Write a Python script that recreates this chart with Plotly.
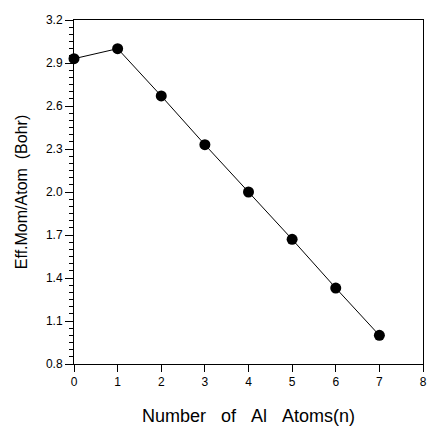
import plotly.graph_objects as go

n_atoms = [0, 1, 2, 3, 4, 5, 6, 7]
eff_mom = [2.93, 3.00, 2.67, 2.33, 2.00, 1.67, 1.33, 1.00]
x_ticks = [0, 1, 2, 3, 4, 5, 6, 7, 8]
y_ticks = [0.8, 1.1, 1.4, 1.7, 2.0, 2.3, 2.6, 2.9, 3.2]

fig = go.Figure()
fig.add_trace(go.Scatter(
    x=n_atoms, y=eff_mom, mode="lines+markers",
    line=dict(color="black", width=1),
    marker=dict(color="black", size=11),
    cliponaxis=False, showlegend=False,
))

font = "Liberation Sans, Arial, sans-serif"
sp = "\u00a0\u00a0\u00a0"
fig.update_layout(
    width=427, height=426,
    margin=dict(l=74, r=4, t=20, b=62, autoexpand=False),
    paper_bgcolor="white", plot_bgcolor="white",
    font=dict(family=font, color="black"),
    xaxis=dict(
        range=[0, 8], tickvals=x_ticks, ticktext=[str(v) for v in x_ticks],
        ticks="outside", ticklen=7, tickwidth=1, tickcolor="black",
        showline=True, linecolor="black", linewidth=1, mirror=True,
        showgrid=False, zeroline=False, automargin=False,
        ticklabeloverflow="allow",
        tickfont=dict(size=12, family=font),
        title=dict(text=f"Number{sp}of{sp}Al{sp}Atoms(n)", font=dict(size=18, family=font), standoff=25),
    ),
    yaxis=dict(
        range=[0.8, 3.2], tickvals=y_ticks, ticktext=[f"{v:.1f}" for v in y_ticks],
        ticks="outside", ticklen=8, tickwidth=1, tickcolor="black",
        minor=dict(dtick=0.05, ticks="outside", ticklen=4, tickcolor="black", tickwidth=1),
        showline=True, linecolor="black", linewidth=1, mirror=True,
        showgrid=False, zeroline=False, automargin=False,
        ticklabeloverflow="allow",
        tickfont=dict(size=12, family=font),
        title=dict(text="Eff.Mom/Atom  (Bohr)", font=dict(size=16, family=font), standoff=14),
    ),
)
fig.write_html(
    "out.html",
    config={"displayModeBar": False},
    post_script="document.body.style.margin='0';document.body.style.overflow='hidden';",
)
